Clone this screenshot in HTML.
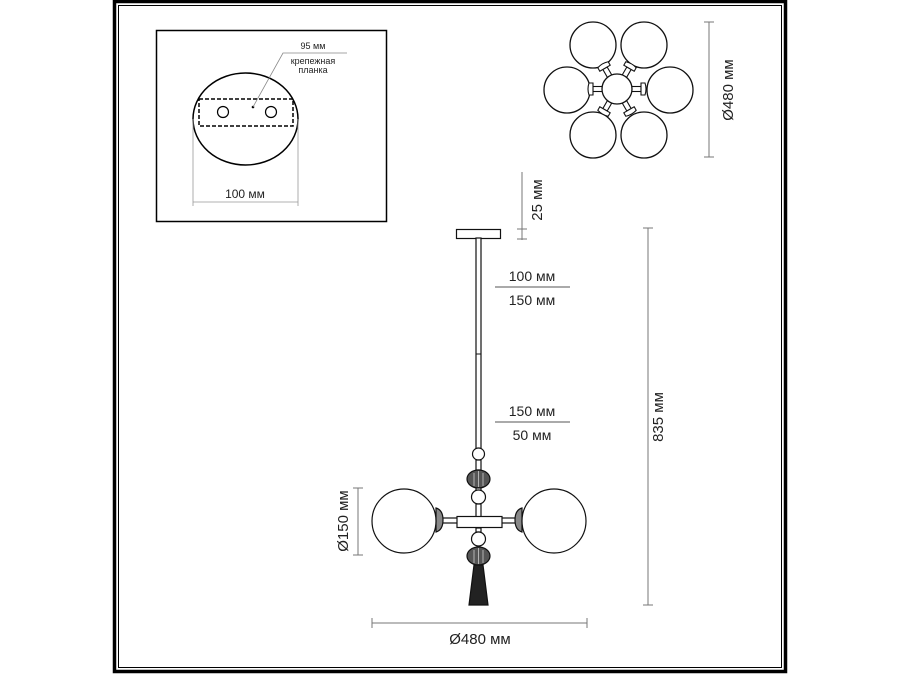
<!DOCTYPE html>
<html><head><meta charset="utf-8"><style>
html,body{margin:0;padding:0;background:#fff}
svg{display:block}
text{font-family:"Liberation Sans",sans-serif;fill:#222}
</style></head><body>
<svg width="900" height="675" viewBox="0 0 900 675" xmlns="http://www.w3.org/2000/svg">
<defs>
<g id="arm" stroke="#111" stroke-width="1.1" fill="#fff">
<rect x="14" y="-2.5" width="10" height="5"/>
<path d="M24 -6 L28 -6 Q30 0 28 6 L24 6 Z"/>
</g>
</defs>
<!-- frame -->
<rect x="114.5" y="1.5" width="671" height="670" fill="none" stroke="#000" stroke-width="3.5"/>
<rect x="118.5" y="5.5" width="663" height="662" fill="none" stroke="#000" stroke-width="1"/>

<!-- inset box -->
<rect x="156.5" y="30.5" width="230" height="191" fill="none" stroke="#000" stroke-width="1.5"/>
<ellipse cx="245.5" cy="119" rx="52.5" ry="46" fill="none" stroke="#000" stroke-width="1.5"/>
<rect x="199" y="99" width="94" height="27" fill="none" stroke="#000" stroke-width="1.5" stroke-dasharray="4,2"/>
<circle cx="223" cy="112" r="5.5" fill="none" stroke="#000" stroke-width="1.2"/>
<circle cx="271" cy="112" r="5.5" fill="none" stroke="#000" stroke-width="1.2"/>
<circle cx="253" cy="107" r="1.3" fill="#000"/>
<polyline points="253,107 283,53 347,53" fill="none" stroke="#888" stroke-width="0.8"/>
<text x="313" y="49" font-size="9" text-anchor="middle">95 мм</text>
<text x="313" y="64" font-size="9" text-anchor="middle">крепежная</text>
<text x="313" y="73" font-size="9" text-anchor="middle">планка</text>
<line x1="193" y1="119" x2="193" y2="206" stroke="#999" stroke-width="0.8"/>
<line x1="298" y1="119" x2="298" y2="206" stroke="#999" stroke-width="0.8"/>
<line x1="193" y1="202" x2="298" y2="202" stroke="#999" stroke-width="0.8"/>
<text x="245" y="198" font-size="12" text-anchor="middle">100 мм</text>

<!-- top view -->
<g fill="none" stroke="#111" stroke-width="1.3">
<circle cx="593" cy="45" r="23"/><circle cx="644" cy="45" r="23"/>
<circle cx="567" cy="90" r="23"/><circle cx="670" cy="90" r="23"/>
<circle cx="593" cy="135" r="23"/><circle cx="644" cy="135" r="23"/>
</g>
<g transform="translate(617,89)">
<use href="#arm"/>
<use href="#arm" transform="rotate(180)"/>
<use href="#arm" transform="rotate(-60)"/>
<use href="#arm" transform="rotate(-120)"/>
<use href="#arm" transform="rotate(60)"/>
<use href="#arm" transform="rotate(120)"/>
<circle r="15" fill="#fff" stroke="#111" stroke-width="1.3"/>
</g>
<line x1="709" y1="22" x2="709" y2="157" stroke="#777" stroke-width="1"/>
<line x1="704" y1="22" x2="714" y2="22" stroke="#777"/>
<line x1="704" y1="157" x2="714" y2="157" stroke="#777"/>
<text transform="translate(733,90) rotate(-90)" font-size="15" text-anchor="middle">Ø480 мм</text>

<!-- main fixture -->
<rect x="456.5" y="229.5" width="44" height="9" fill="#fff" stroke="#111" stroke-width="1.2"/>
<rect x="476" y="238" width="5" height="212" fill="#fff" stroke="#111" stroke-width="1.2"/>
<line x1="476" y1="354" x2="481" y2="354" stroke="#111"/>
<line x1="522" y1="172" x2="522" y2="240" stroke="#777"/>
<line x1="517" y1="229" x2="527" y2="229" stroke="#777"/>
<line x1="517" y1="239" x2="527" y2="239" stroke="#777"/>
<text transform="translate(542,200) rotate(-90)" font-size="15" text-anchor="middle">25 мм</text>
<text x="532" y="281" font-size="14" text-anchor="middle">100 мм</text>
<line x1="495" y1="287" x2="570" y2="287" stroke="#555"/>
<text x="532" y="305" font-size="14" text-anchor="middle">150 мм</text>
<text x="532" y="416" font-size="14" text-anchor="middle">150 мм</text>
<line x1="495" y1="422" x2="570" y2="422" stroke="#555"/>
<text x="532" y="440" font-size="14" text-anchor="middle">50 мм</text>

<g stroke="#111" stroke-width="1.2">
<circle cx="478.5" cy="454" r="6" fill="#fff"/>
<rect x="476" y="460" width="5" height="10" fill="#fff"/>
<ellipse cx="478.5" cy="479" rx="11.5" ry="9" fill="#555"/>
<rect x="476" y="488" width="5" height="3" fill="#fff"/>
<circle cx="478.5" cy="497" r="7" fill="#fff"/>
<rect x="476" y="504" width="5" height="13" fill="#fff"/>
<rect x="436" y="518" width="86" height="5" fill="#fff"/>
<path d="M436 508 q7 2 7 12 q0 10 -7 12 z" fill="#888"/>
<path d="M522 508 q-7 2 -7 12 q0 10 7 12 z" fill="#888"/>
<rect x="457" y="516.5" width="45" height="11" fill="#fff"/>
<circle cx="404" cy="521" r="32" fill="#fff"/>
<circle cx="554" cy="521" r="32" fill="#fff"/>
<rect x="476" y="528" width="5" height="4" fill="#fff"/>
<circle cx="478.5" cy="539" r="7" fill="#fff"/>
<ellipse cx="478.5" cy="556" rx="11.5" ry="9" fill="#555"/>
<path d="M474 565 L483 565 L488 605 L469 605 Z" fill="#222"/>
</g>
<g stroke="#ccc" stroke-width="0.8">
<line x1="474" y1="473" x2="474" y2="486"/><line x1="478.5" y1="471" x2="478.5" y2="487"/><line x1="483" y1="473" x2="483" y2="486"/>
<line x1="474" y1="550" x2="474" y2="563"/><line x1="478.5" y1="548" x2="478.5" y2="564"/><line x1="483" y1="550" x2="483" y2="563"/>
</g>

<line x1="358" y1="488" x2="358" y2="555" stroke="#777"/>
<line x1="353" y1="488" x2="363" y2="488" stroke="#777"/>
<line x1="353" y1="555" x2="363" y2="555" stroke="#777"/>
<text transform="translate(348,521) rotate(-90)" font-size="15" text-anchor="middle">Ø150 мм</text>

<line x1="372" y1="623" x2="587" y2="623" stroke="#777"/>
<line x1="372" y1="618" x2="372" y2="628" stroke="#777"/>
<line x1="587" y1="618" x2="587" y2="628" stroke="#777"/>
<text x="480" y="644" font-size="15" text-anchor="middle">Ø480 мм</text>

<line x1="648" y1="228" x2="648" y2="605" stroke="#777"/>
<line x1="643" y1="228" x2="653" y2="228" stroke="#777"/>
<line x1="643" y1="605" x2="653" y2="605" stroke="#777"/>
<text transform="translate(663,417) rotate(-90)" font-size="15" text-anchor="middle">835 мм</text>
</svg>
</body></html>
